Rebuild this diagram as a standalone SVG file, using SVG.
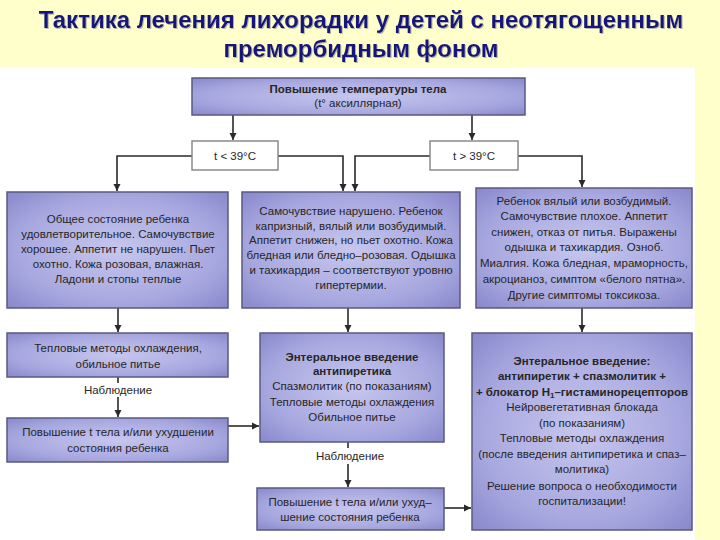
<svg xmlns="http://www.w3.org/2000/svg" width="720" height="540" viewBox="0 0 720 540">
<style>
.box{fill:url(#bg);stroke:#5a5a80;stroke-width:1.5}
.tbox{fill:#ffffff;stroke:#8a8a8a;stroke-width:1.5}
.t{font-family:"Liberation Sans",Arial,sans-serif;font-size:11.5px;fill:#262626;text-anchor:middle}
.b{font-weight:bold}
.ttl{font-family:"Liberation Sans",Arial,sans-serif;font-size:24px;font-weight:bold;fill:#16167a;text-anchor:middle}
.c{fill:none;stroke:#2a2a2a;stroke-width:1.6}
</style>
<defs>
<radialGradient id="bg" cx="0.5" cy="0.5" r="0.75">
<stop offset="0" stop-color="#c6c6ee"/>
<stop offset="0.6" stop-color="#a8a8e0"/>
<stop offset="1" stop-color="#8282c8"/>
</radialGradient>
<marker id="ah" viewBox="0 0 10 10" refX="10" refY="5" markerWidth="7" markerHeight="8" markerUnits="userSpaceOnUse" orient="auto">
<path d="M0,0 L10,5 L0,10 z" fill="#2a2a2a"/>
</marker>
<filter id="sh" x="-5%" y="-20%" width="110%" height="140%">
<feDropShadow dx="1" dy="1" stdDeviation="0.6" flood-color="#999" flood-opacity="0.7"/>
</filter>
</defs>
<rect x="0" y="0" width="720" height="540" fill="#ffffcc"/>
<rect x="0" y="68" width="695" height="472" fill="#ffffff"/>
<g id="title" filter="url(#sh)">
<text class="ttl" x="361" y="28">Тактика лечения лихорадки у детей с неотягощенным</text>
<text class="ttl" x="361" y="57">преморбидным фоном</text>
</g>
<g id="connectors">
<path class="c" d="M233,115 V140" marker-end="url(#ah)"/>
<path class="c" d="M472,108 V140" marker-end="url(#ah)"/>
<path class="c" d="M192,156 H117 V191" marker-end="url(#ah)"/>
<path class="c" d="M278,156 H343 V191" marker-end="url(#ah)"/>
<path class="c" d="M430,156 H355 V191" marker-end="url(#ah)"/>
<path class="c" d="M518,156 H582 V187" marker-end="url(#ah)"/>
<path class="c" d="M118,308 V332" marker-end="url(#ah)"/>
<path class="c" d="M348,308 V332" marker-end="url(#ah)"/>
<path class="c" d="M582,308 V332" marker-end="url(#ah)"/>
<path class="c" d="M118,377 V383"/>
<path class="c" d="M118,397 V417" marker-end="url(#ah)"/>
<path class="c" d="M228,426 H259" marker-end="url(#ah)"/>
<path class="c" d="M348,442 V448"/>
<path class="c" d="M348,464 V487" marker-end="url(#ah)"/>
<path class="c" d="M444,508 H471" marker-end="url(#ah)"/>
</g>
<g id="n-top">
<rect class="box" x="192" y="78" width="333" height="37"/>
<text class="t b" x="358" y="93" font-size="11.5">Повышение температуры тела</text>
<text class="t" x="358" y="107" font-size="11">(t° аксиллярная)</text>
</g>
<g id="n-lt">
<rect class="tbox" x="192" y="141" width="86" height="29"/>
<text class="t" x="235" y="160" font-size="12">t &lt; 39°C</text>
</g>
<g id="n-gt">
<rect class="tbox" x="430" y="141" width="88" height="29"/>
<text class="t" x="474" y="160" font-size="12">t &gt; 39°C</text>
</g>
<g id="n-state1">
<rect class="box" x="7" y="192" width="221" height="116"/>
<text class="t" x="118" y="223">Общее состояние ребенка</text>
<text class="t" x="118" y="238">удовлетворительное. Самочувствие</text>
<text class="t" x="118" y="253">хорошее. Аппетит не нарушен. Пьет</text>
<text class="t" x="118" y="268">охотно. Кожа розовая, влажная.</text>
<text class="t" x="118" y="283">Ладони и стопы теплые</text>
</g>
<g id="n-state2">
<rect class="box" x="242" y="192" width="218" height="116"/>
<text class="t" x="351" y="215">Самочувствие нарушено. Ребенок</text>
<text class="t" x="351" y="230">капризный, вялый или возбудимый.</text>
<text class="t" x="351" y="244">Аппетит снижен, но пьет охотно. Кожа</text>
<text class="t" x="351" y="259">бледная или бледно–розовая. Одышка</text>
<text class="t" x="351" y="274">и тахикардия – соответствуют уровню</text>
<text class="t" x="351" y="289">гипертермии.</text>
</g>
<g id="n-state3">
<rect class="box" x="476" y="188" width="216" height="120"/>
<text class="t" x="584" y="205">Ребенок вялый или возбудимый.</text>
<text class="t" x="584" y="220">Самочувствие плохое. Аппетит</text>
<text class="t" x="584" y="236">снижен, отказ от питья. Выражены</text>
<text class="t" x="584" y="251">одышка и тахикардия. Озноб.</text>
<text class="t" x="584" y="267">Миалгия. Кожа бледная, мраморность,</text>
<text class="t" x="584" y="283">акроцианоз, симптом «белого пятна».</text>
<text class="t" x="584" y="299">Другие симптомы токсикоза.</text>
</g>
<g id="n-cool1">
<rect class="box" x="7" y="333" width="221" height="44"/>
<text class="t" x="118" y="352">Тепловые методы охлаждения,</text>
<text class="t" x="118" y="368">обильное питье</text>
</g>
<g id="n-obs1">
<text class="t" x="118" y="394">Наблюдение</text>
</g>
<g id="n-worse1">
<rect class="box" x="7" y="418" width="221" height="44"/>
<text class="t" x="118" y="436">Повышение t тела и/или ухудшении</text>
<text class="t" x="118" y="452">состояния ребенка</text>
</g>
<g id="n-ent1">
<rect class="box" x="260" y="333" width="184" height="109"/>
<text class="t b" x="352" y="361">Энтеральное введение</text>
<text class="t b" x="352" y="375">антипиретика</text>
<text class="t" x="352" y="390">Спазмолитик (по показаниям)</text>
<text class="t" x="352" y="406">Тепловые методы охлаждения</text>
<text class="t" x="352" y="421">Обильное питье</text>
</g>
<g id="n-obs2">
<text class="t" x="350" y="460">Наблюдение</text>
</g>
<g id="n-worse2">
<rect class="box" x="257" y="488" width="187" height="42"/>
<text class="t" x="350" y="506">Повышение t тела и/или ухуд–</text>
<text class="t" x="350" y="521">шение состояния ребенка</text>
</g>
<g id="n-ent2">
<rect class="box" x="472" y="333" width="220" height="197"/>
<text class="t b" x="582" y="365">Энтеральное введение:</text>
<text class="t b" x="582" y="380">антипиретик + спазмолитик +</text>
<text class="t b" x="582" y="396">+ блокатор H<tspan font-size="8" dy="2">1</tspan><tspan dy="-2">–гистаминорецепторов</tspan></text>
<text class="t" x="582" y="411">Нейровегетативная блокада</text>
<text class="t" x="582" y="427">(по показаниям)</text>
<text class="t" x="582" y="442">Тепловые методы охлаждения</text>
<text class="t" x="582" y="458">(после введения антипиретика и спаз–</text>
<text class="t" x="582" y="473">молитика)</text>
<text class="t" x="582" y="490">Решение вопроса о необходимости</text>
<text class="t" x="582" y="505">госпитализации!</text>
</g>
</svg>
